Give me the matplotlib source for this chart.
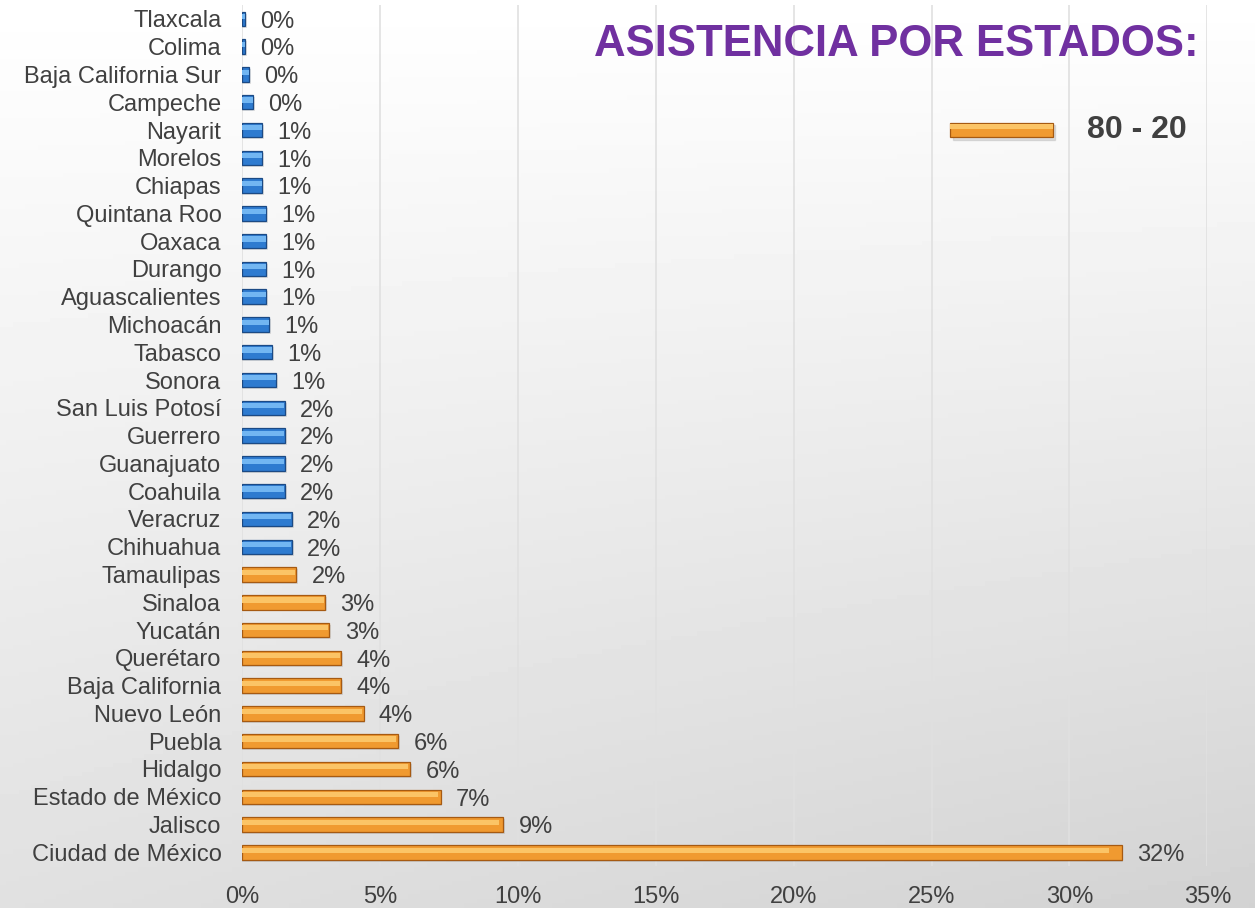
import numpy as np
from matplotlib import pyplot as plt

# states, top to bottom as in the chart
estados = ['Tlaxcala', 'Colima', 'Baja California Sur', 'Campeche', 'Nayarit',
           'Morelos', 'Chiapas', 'Quintana Roo', 'Oaxaca', 'Durango',
           'Aguascalientes', 'Michoacán', 'Tabasco', 'Sonora', 'San Luis Potosí',
           'Guerrero', 'Guanajuato', 'Coahuila', 'Veracruz', 'Chihuahua',
           'Tamaulipas', 'Sinaloa', 'Yucatán', 'Querétaro', 'Baja California',
           'Nuevo León', 'Puebla', 'Hidalgo', 'Estado de México', 'Jalisco',
           'Ciudad de México']
# percent of attendance
asistencia = [0.11, 0.11, 0.25, 0.40, 0.73,
              0.73, 0.73, 0.87, 0.87, 0.87,
              0.87, 0.98, 1.09, 1.23, 1.55,
              1.55, 1.55, 1.55, 1.80, 1.80,
              1.96, 3.00, 3.16, 3.60, 3.60,
              4.40, 5.66, 6.10, 7.20, 9.47,
              31.9]
# the 11 biggest states make the 80 - 20 group
n_pareto = 11
x_ticks = [0, 5, 10, 15, 20, 25, 30, 35]

estados = estados[::-1]
asistencia = np.array(asistencia[::-1])
y = np.arange(len(estados))

plt.rcParams['font.family'] = ['Liberation Sans', 'DejaVu Sans']
text_color = '#404040'

fig = plt.figure(figsize=(12.55, 9.08), dpi=100)

# gradient background
bg = fig.add_axes([0, 0, 1, 1], zorder=-10)
gy, gx = np.mgrid[0:1:200j, 0:1:200j]
shade = 1.0 - 0.16 * (0.75 * gy + 0.35 * gx * gy)
bg.imshow(shade, cmap='gray', vmin=0, vmax=1, aspect='auto', extent=[0, 1, 0, 1], origin='upper')
bg.axis('off')

ax = fig.add_axes([0.193, 0.046, 0.769, 0.9485])
ax.set_facecolor('none')

h = 0.52
orange = dict(main='#F09A30', edge='#A65A12', light='#FBC466')
blue = dict(main='#2E7BD0', edge='#1B4A85', light='#72B6F2')
for i, v in enumerate(asistencia):
    c = orange if i < n_pareto else blue
    # shadow
    ax.barh(y[i] - 0.07, v + 0.06, height=h, color='#7f7f7f', alpha=0.22, zorder=2)
    ax.barh(y[i], v, height=h, color=c['main'], edgecolor=c['edge'], linewidth=0.9, zorder=3)
    ax.barh(y[i] + 0.08, v * 0.985, height=h * 0.36, color=c['light'], zorder=4)
    ax.annotate(f'{int(v + 0.5)}%', (v, y[i]), xytext=(11, -2), textcoords='offset points',
                va='center', ha='left', fontsize=17, color=text_color)

ax.set_xlim(0, 35)
ax.set_ylim(-0.5, len(estados) - 0.5)
ax.set_xticks(x_ticks)
ax.set_xticklabels([f'{t}%' for t in x_ticks], fontsize=17, color=text_color)
ax.set_yticks(y)
ax.set_yticklabels(estados, fontsize=17, color=text_color)
ax.tick_params(axis='both', length=0)
ax.tick_params(axis='y', pad=15)
ax.tick_params(axis='x', pad=14)
for s in ax.spines.values():
    s.set_visible(False)
ax.grid(axis='x', color='#e0e0e0', linewidth=1.2, zorder=0)
ax.set_axisbelow(True)

# title
fig.text(0.955, 0.951, 'ASISTENCIA POR ESTADOS:', ha='right', va='center',
         fontsize=31.5, fontweight='bold', color='#7030A0')

# legend
lx0, lx1 = 0.757, 0.839
ly = 0.857
fig.patches.append(plt.Rectangle((lx0 + 0.002, ly - 0.011), lx1 - lx0, 0.016,
                                 transform=fig.transFigure, color='#7f7f7f', alpha=0.22))
fig.patches.append(plt.Rectangle((lx0, ly - 0.008), lx1 - lx0, 0.016, transform=fig.transFigure,
                                 facecolor=orange['main'], edgecolor=orange['edge'], linewidth=0.9))
fig.patches.append(plt.Rectangle((lx0, ly + 0.0005), lx1 - lx0, 0.0055, transform=fig.transFigure,
                                 facecolor=orange['light'], edgecolor='none'))
fig.text(0.866, ly, '80 - 20', ha='left', va='center', fontsize=23, fontweight='bold', color=text_color)

fig.savefig('out.png', dpi=100)
